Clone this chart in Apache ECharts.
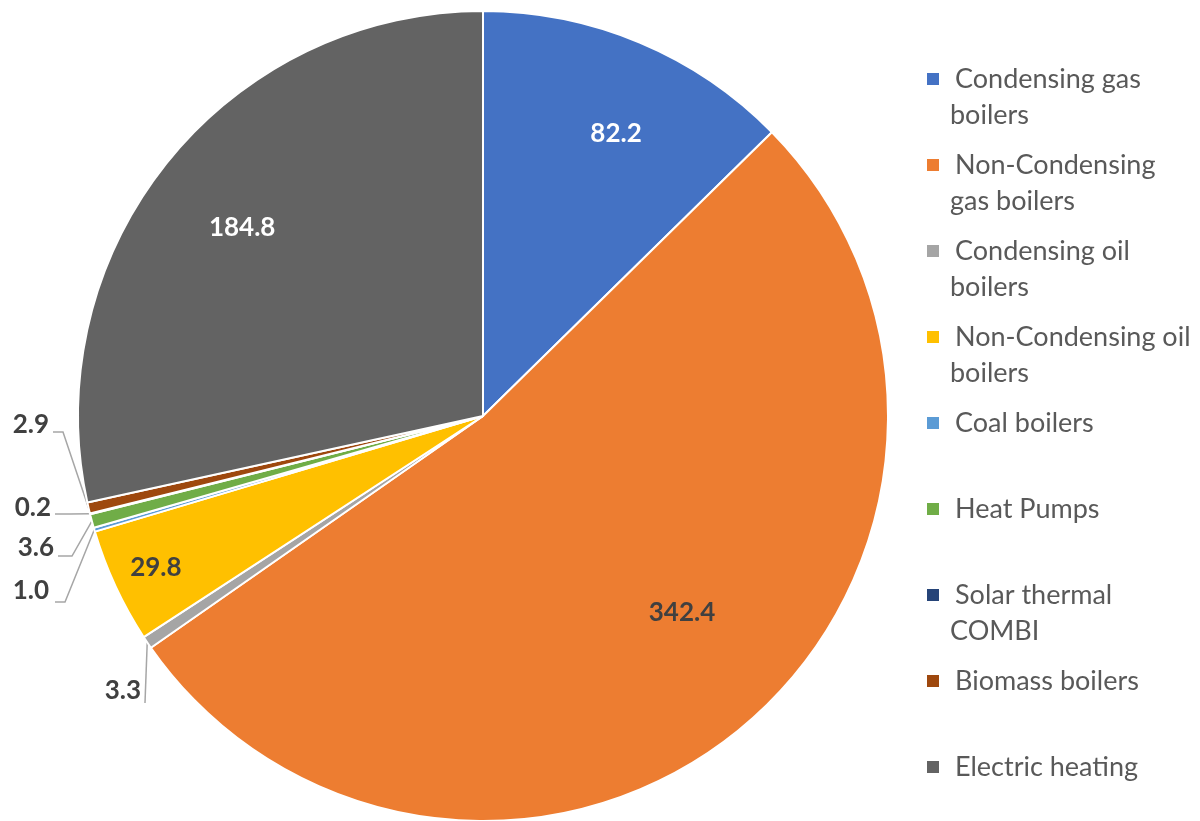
<!DOCTYPE html>
<html>
<head>
<meta charset="utf-8">
<script src="https://cdn.jsdelivr.net/npm/echarts@6/dist/echarts.min.js"></script>
<style>
  html, body { margin: 0; padding: 0; background: #fff; }
  #chart { width: 1200px; height: 821px; }
</style>
</head>
<body>
<div id="chart"></div>
<script>
// data
var categories = ['Condensing gas boilers', 'Non-Condensing gas boilers', 'Condensing oil boilers',
  'Non-Condensing oil boilers', 'Coal boilers', 'Heat Pumps', 'Solar thermal COMBI',
  'Biomass boilers', 'Electric heating'];
var legendLines = [['Condensing gas', 'boilers'], ['Non-Condensing', 'gas boilers'],
  ['Condensing oil', 'boilers'], ['Non-Condensing oil', 'boilers'], ['Coal boilers', ''],
  ['Heat Pumps', ''], ['Solar thermal', 'COMBI'], ['Biomass boilers', ''], ['Electric heating', '']];
var values = [82.2, 342.4, 3.3, 29.8, 1.0, 3.6, 0.2, 2.9, 184.8];

var colors = ['#4472C4', '#ED7D31', '#A5A5A5', '#FFC000', '#5B9BD5', '#70AD47', '#264478', '#9E480E', '#636363'];
var labelColors = ['#fff', '#404040', '#404040', '#404040', '#404040', '#404040', '#404040', '#404040', '#fff'];

var cx = 483, cy = 416, R = 405;
var total = values.reduce(function (a, b) { return a + b; }, 0);

// mid angle of a slice, clockwise from 12 o'clock (radians)
function midAngle(i) {
  var before = 0;
  for (var k = 0; k < i; k++) before += values[k];
  return (before + values[i] / 2) / total * Math.PI * 2;
}
function polar(a, r) {
  return [cx + r * Math.sin(a), cy - r * Math.cos(a)];
}

// where labels sit: inside ones by [radius fraction, angle nudge in deg],
// outside ones by text anchor + leader elbow
var insideR = { 0: [0.77, 2.5], 1: [0.69, -5.7], 3: [0.89, 0], 8: [0.755, -0.8] };
var outside = {
  7: { at: [49, 425], line: [[63, 432], [53, 432]] },
  6: { at: [51, 508], line: [[70, 514], [55, 514]] },
  5: { at: [54, 548], line: [[72, 556], [58, 556]] },
  4: { at: [49, 591], line: [[65, 602], [55, 602]] },
  2: { at: [141, 691], line: [[145, 703], [145, 703]] }
};

var seriesData = values.map(function (v, i) {
  return {
    name: categories[i],
    value: v,
    itemStyle: { color: colors[i] },
    label: { color: labelColors[i] },
    labelLine: { show: outside[i] != null }
  };
});

var richLegend = {
  s: { width: 16, height: 36 },
  p: { width: 23, height: 36 },
  t: { fontSize: 27, color: '#595959', fontFamily: 'Lato', lineHeight: 36, height: 36 }
};
colors.forEach(function (c, i) {
  richLegend['m' + i] = { width: 12, height: 12, backgroundColor: c };
});

var myChart = echarts.init(document.getElementById('chart'));
var option = {
  backgroundColor: '#fff',
  animation: false,
  legend: {
    orient: 'vertical',
    left: 922,
    top: 61,
    padding: 0,
    itemGap: 14,
    icon: 'none',
    itemWidth: 0,
    itemHeight: 12,
    selectedMode: false,
    data: categories,
    formatter: function (name) {
      var i = categories.indexOf(name);
      var l = legendLines[i];
      return '{m' + i + '|}{s|}{t|' + l[0] + '}\n{p|}{t|' + l[1] + '}';
    },
    textStyle: { rich: richLegend, lineHeight: 36 }
  },
  series: [{
    type: 'pie',
    center: [cx, cy],
    radius: R,
    startAngle: 90,
    clockwise: true,
    avoidLabelOverlap: false,
    itemStyle: { borderColor: '#fff', borderWidth: 2 },
    label: {
      show: true,
      position: 'outside',
      formatter: function (p) { return p.value.toFixed(1); },
      fontFamily: 'Lato',
      fontSize: 26,
      fontWeight: 'bold'
    },
    labelLine: { show: true, lineStyle: { color: '#A6A6A6', width: 1.5 } },
    labelLayout: function (params) {
      var i = params.dataIndex;
      if (insideR[i] != null) {
        var a = midAngle(i) + insideR[i][1] * Math.PI / 180;
        var p = polar(a, R * insideR[i][0]);
        return { x: p[0], y: p[1], align: 'center', verticalAlign: 'middle' };
      }
      var o = outside[i];
      var edge = polar(midAngle(i), R);
      return {
        x: o.at[0], y: o.at[1], align: 'right', verticalAlign: 'middle',
        labelLinePoints: [edge, o.line[0], o.line[1]]
      };
    },
    data: seriesData
  }]
};
myChart.setOption(option);
</script>
</body>
</html>
